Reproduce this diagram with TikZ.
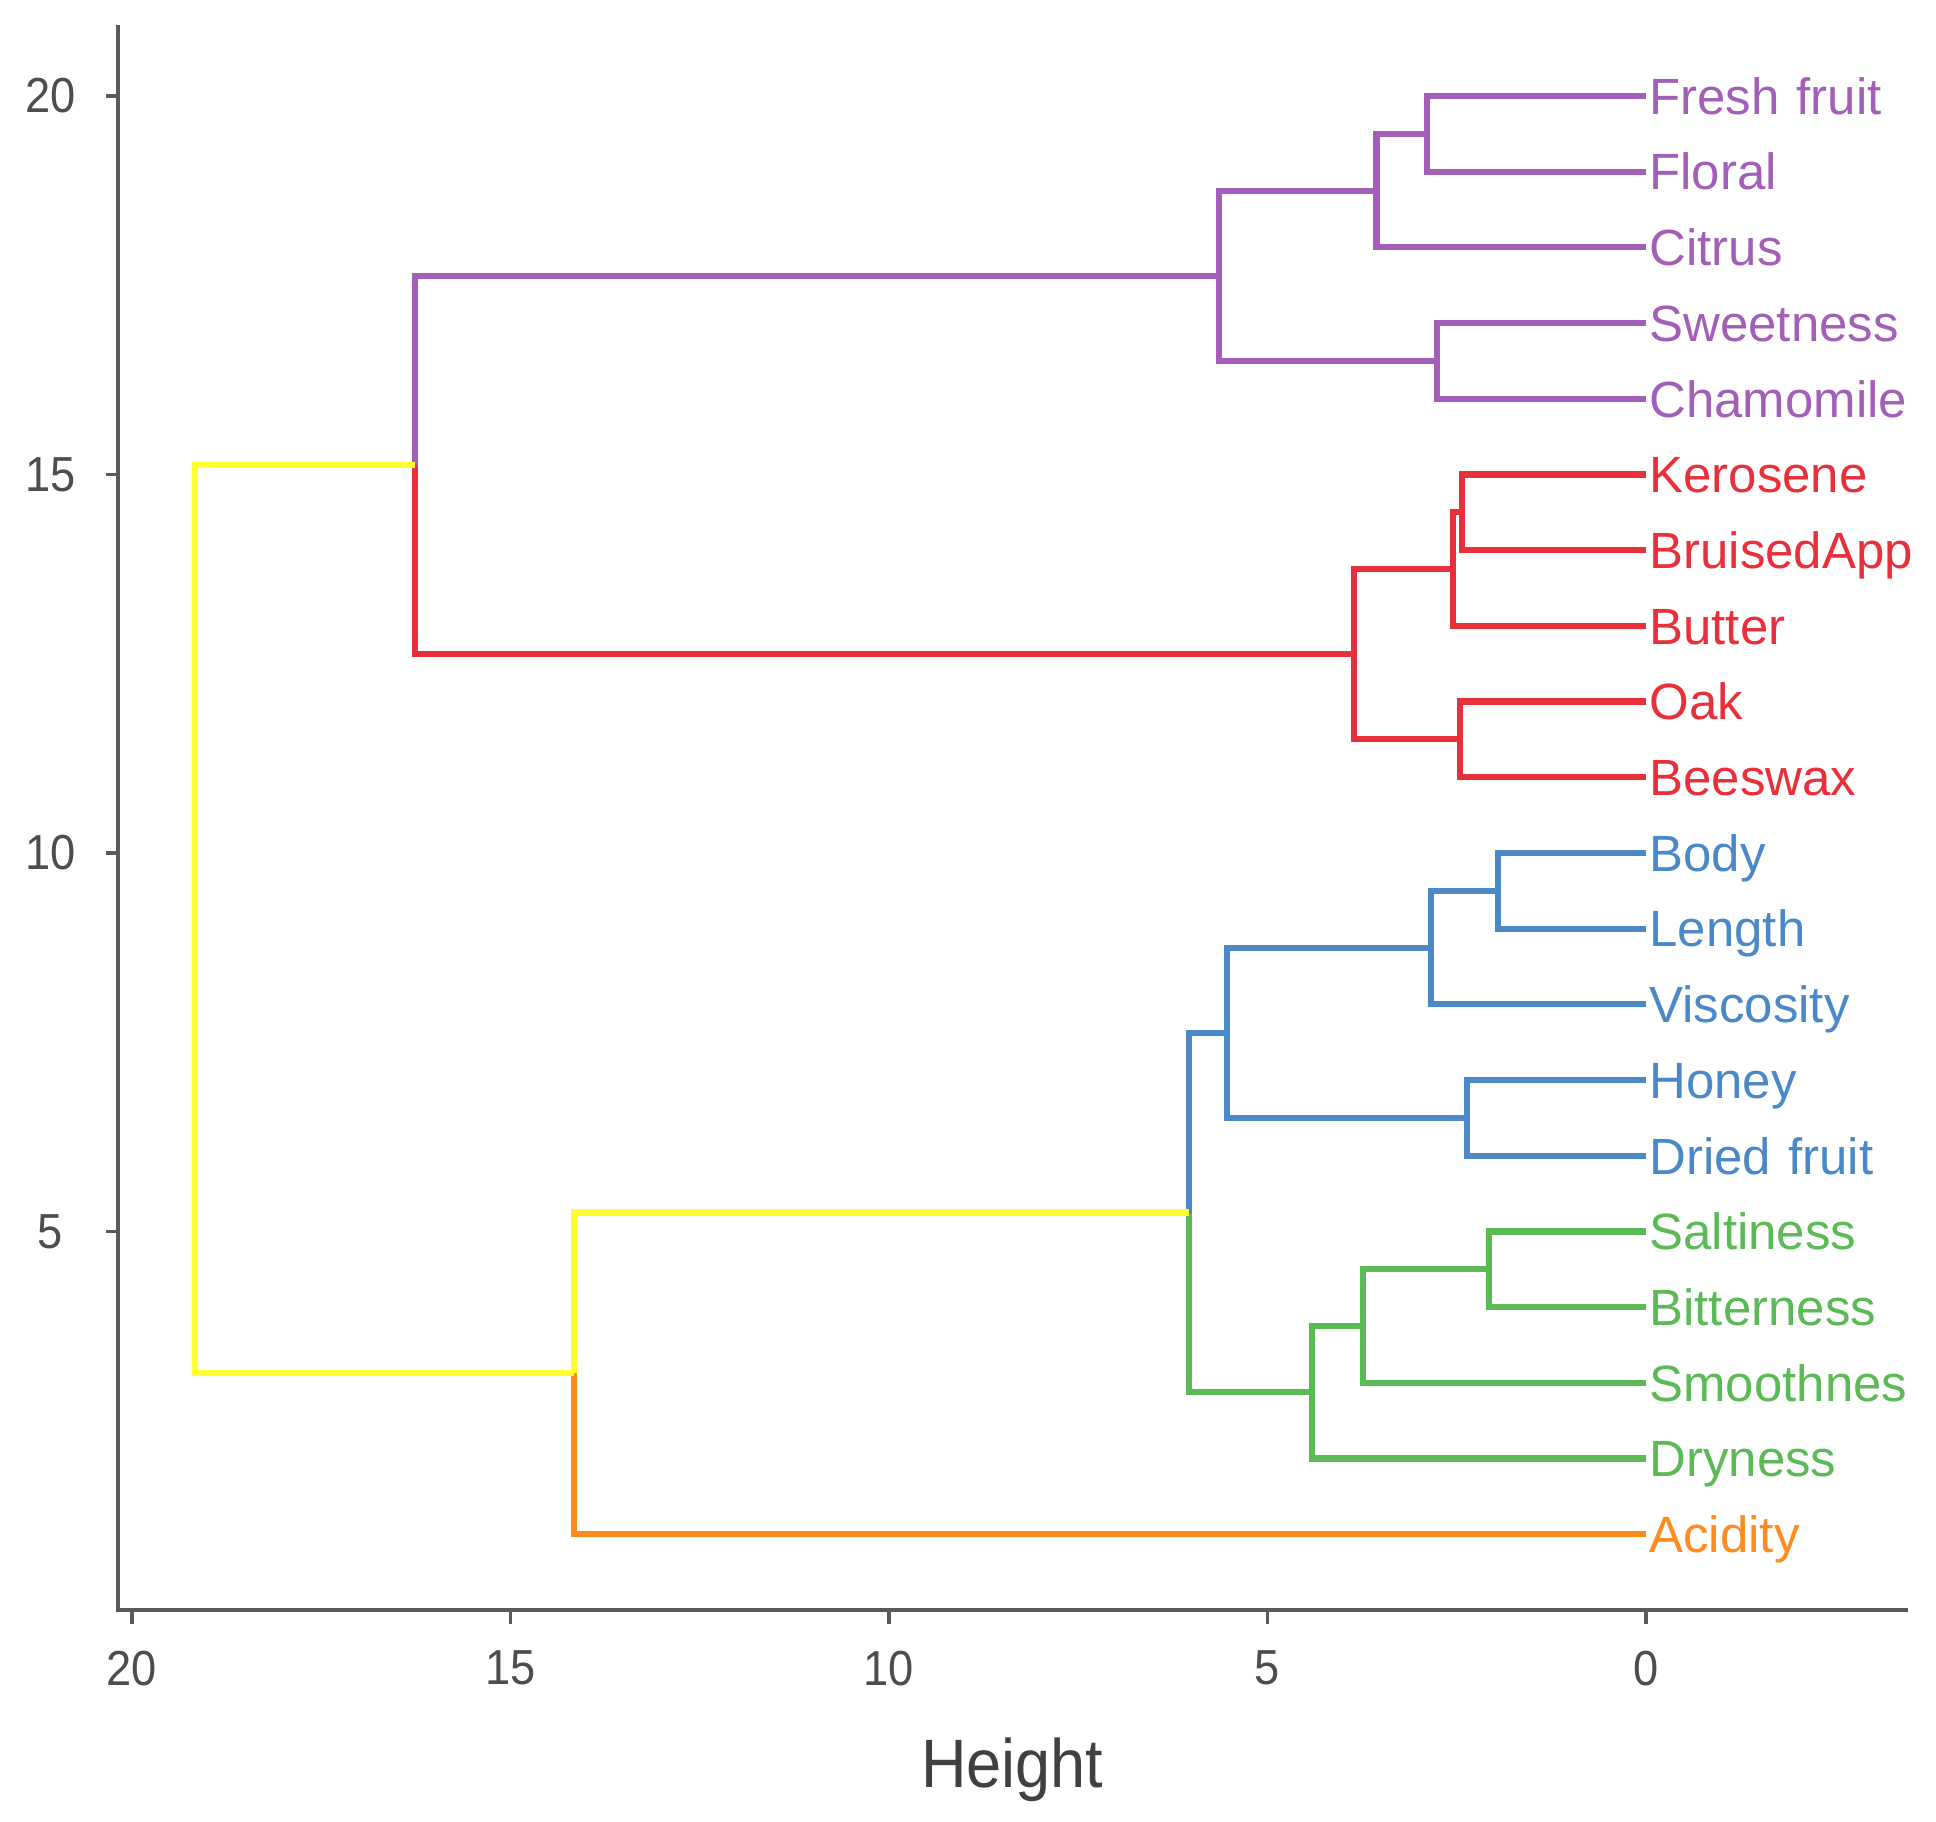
\documentclass[tikz,border=0pt]{standalone}
\usepackage{fontspec}
\setmainfont{Liberation Sans}
\newfontfamily\narrowfont[FakeStretch=0.92]{Liberation Sans}
\usepackage{tikz}
\usetikzlibrary{positioning}
\definecolor{dpurple}{HTML}{A35FB8}
\definecolor{dred}{HTML}{E8303A}
\definecolor{dblue}{HTML}{4A88C7}
\definecolor{dgreen}{HTML}{5BB956}
\definecolor{dorange}{HTML}{FF8B1F}
\definecolor{dyellow}{HTML}{FFFF33}
\definecolor{axisgray}{HTML}{5A5A5A}
\definecolor{tickgray}{HTML}{4D4D4D}
\tikzstyle{leaf} = [draw=none, fill=none, anchor=west, text width=2.9cm, align=left, minimum height=0.757cm, inner xsep=1pt, inner ysep=0pt, outer sep=0pt, text height=10.4pt, text depth=0pt, font=\fontsize{14.5}{17}\selectfont]
\tikzstyle{branch} = [line width=1.75pt]
\tikzstyle{axis} = [line width=1.1pt, draw=axisgray]
\tikzstyle{ticklabel} = [text=tickgray, inner sep=0pt, font=\narrowfont\fontsize{14}{16}\selectfont]

\begin{document}
\begin{tikzpicture}[x=-0.757cm, y=0.757cm]

\useasboundingbox (21.744,-2.8005) rectangle (-3.831,21.268);

% axes =============================

\draw[axis] (20.19,20.94) -- (20.19,0) -- (-3.46,0);

% y ticks
\draw[axis] (20.19,20) -- (20.35,20);
\draw[axis] (20.19,15) -- (20.35,15);
\draw[axis] (20.19,10) -- (20.35,10);
\draw[axis] (20.19,5) -- (20.35,5);
\node[ticklabel] (y20) at (21.08,20) {20};
\node[ticklabel] (y15) at (21.08,15) {15};
\node[ticklabel] (y10) at (21.08,10) {10};
\node[ticklabel] (y5) at (21.08,5) {5};

% x ticks
\draw[axis] (20,0) -- (20,-0.185);
\draw[axis] (15,0) -- (15,-0.185);
\draw[axis] (10,0) -- (10,-0.185);
\draw[axis] (5,0) -- (5,-0.185);
\draw[axis] (0,0) -- (0,-0.185);
\node[ticklabel] (x20) at (20,-0.77) {20};
\node[ticklabel] (x15) at (15,-0.77) {15};
\node[ticklabel] (x10) at (10,-0.77) {10};
\node[ticklabel] (x5) at (5,-0.77) {5};
\node[ticklabel] (x0) at (0,-0.77) {0};

\node[ticklabel, anchor=base, text=black!75, font=\narrowfont\fontsize{19.5}{22}\selectfont] (height) at (8.37,-2.34) {Height};

% leaves =============================

\node[leaf, text=dpurple] (fresh) at (0,20) {Fresh fruit};
\node[leaf, text=dpurple, below=0pt of fresh] (floral) {Floral};
\node[leaf, text=dpurple, below=0pt of floral] (citrus) {Citrus};
\node[leaf, text=dpurple, below=0pt of citrus] (sweet) {Sweetness};
\node[leaf, text=dpurple, below=0pt of sweet] (chamo) {Chamomile};
\node[leaf, text=dred, below=0pt of chamo] (kero) {Kerosene};
\node[leaf, text=dred, below=0pt of kero] (bruised) {BruisedApp};
\node[leaf, text=dred, below=0pt of bruised] (butter) {Butter};
\node[leaf, text=dred, below=0pt of butter] (oak) {Oak};
\node[leaf, text=dred, below=0pt of oak] (bees) {Beeswax};
\node[leaf, text=dblue, below=0pt of bees] (body) {Body};
\node[leaf, text=dblue, below=0pt of body] (length) {Length};
\node[leaf, text=dblue, below=0pt of length] (visc) {Viscosity};
\node[leaf, text=dblue, below=0pt of visc] (honey) {Honey};
\node[leaf, text=dblue, below=0pt of honey] (dried) {Dried fruit};
\node[leaf, text=dgreen, below=0pt of dried] (salt) {Saltiness};
\node[leaf, text=dgreen, below=0pt of salt] (bitter) {Bitterness};
\node[leaf, text=dgreen, below=0pt of bitter] (smooth) {Smoothnes};
\node[leaf, text=dgreen, below=0pt of smooth] (dry) {Dryness};
\node[leaf, text=dorange, below=0pt of dry] (acid) {Acidity};

% merges =============================

\coordinate (ffl) at (2.89,19.5);
\coordinate (ffc) at (3.56,18.75);
\coordinate (swc) at (2.76,16.5);
\coordinate (pur) at (5.64,17.625);
\coordinate (kbr) at (2.43,14.5);
\coordinate (kbu) at (2.55,13.75);
\coordinate (obw) at (2.46,11.5);
\coordinate (red) at (3.86,12.625);
\coordinate (pr) at (16.26,15.125);
\coordinate (bdl) at (1.95,9.5);
\coordinate (blv) at (2.84,8.75);
\coordinate (hdf) at (2.36,6.5);
\coordinate (blu) at (5.53,7.625);
\coordinate (sbt) at (2.07,4.5);
\coordinate (sbs) at (3.74,3.75);
\coordinate (grn) at (4.41,2.875);
\coordinate (bg) at (6.04,5.25);
\coordinate (bga) at (14.16,3.125);
\coordinate (root) at (19.17,9.125);

% purple branches
\draw[branch, dpurple] (fresh.west) -| (ffl) |- (floral.west);
\draw[branch, dpurple] (ffl) -| (ffc) |- (citrus.west);
\draw[branch, dpurple] (sweet.west) -| (swc) |- (chamo.west);
\draw[branch, dpurple] (ffc) -| (pur) |- (swc);
\draw[branch, dpurple] (pur) -| (pr);

% red branches
\draw[branch, dred] (kero.west) -| (kbr) |- (bruised.west);
\draw[branch, dred] (kbr) -| (kbu) |- (butter.west);
\draw[branch, dred] (oak.west) -| (obw) |- (bees.west);
\draw[branch, dred] (kbu) -| (red) |- (obw);
\draw[branch, dred] (red) -| (pr);

% blue branches
\draw[branch, dblue] (body.west) -| (bdl) |- (length.west);
\draw[branch, dblue] (bdl) -| (blv) |- (visc.west);
\draw[branch, dblue] (honey.west) -| (hdf) |- (dried.west);
\draw[branch, dblue] (blv) -| (blu) |- (hdf);
\draw[branch, dblue] (blu) -| (bg);

% green branches
\draw[branch, dgreen] (salt.west) -| (sbt) |- (bitter.west);
\draw[branch, dgreen] (sbt) -| (sbs) |- (smooth.west);
\draw[branch, dgreen] (sbs) -| (grn) |- (dry.west);
\draw[branch, dgreen] (grn) -| (bg);

% top of the tree
\draw[branch, dyellow] (bg) -| (bga);
\draw[branch, dorange] (acid.west) -| (bga);
\draw[branch, dyellow] (pr) -| (root) |- (bga);

\end{tikzpicture}
\end{document}
